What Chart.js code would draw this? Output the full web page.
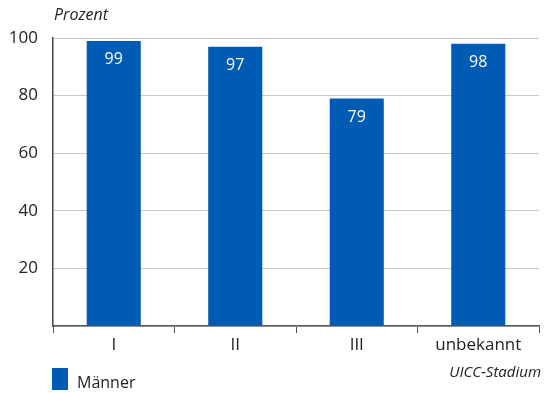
<!DOCTYPE html>
<html>
<head>
<meta charset="utf-8">
<script src="https://cdn.jsdelivr.net/npm/chart.js@4/dist/chart.umd.min.js"></script>
<style>
  html, body { margin: 0; padding: 0; background: #fff; }
  #wrap { position: relative; width: 546px; height: 393px; }
</style>
</head>
<body>
<div id="wrap"><canvas id="c" width="546" height="393"></canvas></div>
<script>
// Überleben nach UICC-Stadium, Männer — one series, four categories
const categories = ["I", "II", "III", "unbekannt"];
const maenner = [99, 97, 79, 98];
const yTicks = [20, 40, 60, 80, 100];

const BLUE = "#005bb5";
const INK = "#222";
const FONT = "'Open Sans', 'Noto Sans', sans-serif";

const textBits = {
  id: "textBits",
  afterDatasetsDraw(chart) {
    const g = chart.ctx;
    const meta = chart.getDatasetMeta(0);
    g.save();
    // values inside the bars, near the top
    g.font = `16px ${FONT}`;
    g.fillStyle = "#fff";
    g.textAlign = "center";
    g.textBaseline = "middle";
    meta.data.forEach((bar, i) => g.fillText(String(maenner[i]), bar.x, bar.y + 19));

    g.fillStyle = INK;
    g.font = `italic 16px ${FONT}`;
    g.textAlign = "left";
    g.fillText("Prozent", 54, 15);

    g.font = `italic 15px ${FONT}`;
    g.textAlign = "right";
    g.fillText("UICC-Stadium", 541, 373);

    // legend
    g.fillStyle = BLUE;
    g.fillRect(52, 368, 16, 22);
    g.fillStyle = INK;
    g.font = `16px ${FONT}`;
    g.textAlign = "left";
    g.fillText("Männer", 77, 383);
    g.restore();
  },
};

new Chart(document.getElementById("c"), {
  type: "bar",
  data: {
    labels: categories,
    datasets: [{
      label: "Männer",
      data: maenner,
      backgroundColor: BLUE,
      borderWidth: 0,
      categoryPercentage: 1,
      barPercentage: 0.445,
    }],
  },
  options: {
    responsive: false,
    animation: false,
    layout: { padding: { top: 38, right: 7, left: 0, bottom: 0 } },
    plugins: { legend: { display: false }, tooltip: { enabled: false } },
    scales: {
      x: {
        offset: true,
        afterFit: (s) => { s.height = 67; },
        grid: { offset: true, drawOnChartArea: false, drawTicks: true, tickLength: 7, color: "#555", lineWidth: 1 },
        border: { color: "#555", width: 1.5 },
        ticks: { color: INK, font: { family: FONT, size: 17 }, padding: 2 },
      },
      y: {
        min: 0,
        max: 100,
        afterFit: (s) => { s.width = 53; },
        afterBuildTicks: (s) => { s.ticks = [0].concat(yTicks).map((v) => ({ value: v })); },
        grid: { color: "#c8c8c8", lineWidth: 1, drawTicks: false },
        border: { color: "#444", width: 1.5 },
        ticks: {
          color: INK,
          font: { family: FONT, size: 17 },
          padding: 15,
          callback: (v) => (v === 0 ? "" : v),
        },
      },
    },
  },
  plugins: [textBits],
});
</script>
</body>
</html>
